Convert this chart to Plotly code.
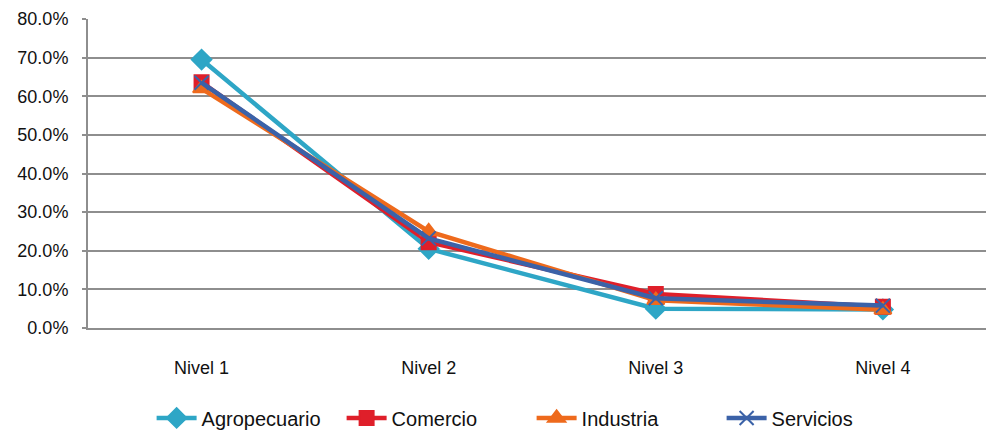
import plotly.graph_objects as go

# Share of firms per level, by economic sector
niveles = ["Nivel 1", "Nivel 2", "Nivel 3", "Nivel 4"]
agropecuario = [0.695, 0.205, 0.050, 0.048]
comercio = [0.636, 0.222, 0.088, 0.055]
industria = [0.620, 0.250, 0.072, 0.047]
servicios = [0.635, 0.232, 0.077, 0.058]

y_ticks = [0.0, 0.1, 0.2, 0.3, 0.4, 0.5, 0.6, 0.7, 0.8]

series = [
    ("Agropecuario", agropecuario, "#2EA6C6", "diamond", 15),
    ("Comercio", comercio, "#DF1F2A", "square", 14),
    ("Industria", industria, "#EE6A1C", "triangle-up", 15),
    ("Servicios", servicios, "#3B62A8", "x-thin-open", 14),
]

fig = go.Figure()
for name, vals, color, symbol, size in series:
    fig.add_trace(go.Scatter(
        x=niveles, y=vals, name=name, mode="lines+markers",
        line=dict(color=color, width=4.5),
        marker=dict(symbol=symbol, size=size, color=color,
                    line=dict(color=color, width=2)),
    ))

grid = "#8E8E8E"
font_family = "Liberation Sans, Arial, sans-serif"

fig.update_layout(
    width=986, height=430,
    margin=dict(l=88, r=0, t=19, b=102, autoexpand=False),
    paper_bgcolor="white", plot_bgcolor="white",
    font=dict(family=font_family, color="#111111"),
    showlegend=True,
    legend=dict(
        orientation="h", x=0.494, xanchor="center", y=-0.291, yanchor="middle",
        font=dict(size=20, family=font_family), itemwidth=40,
        entrywidth=135, entrywidthmode="pixels",
        bgcolor="rgba(0,0,0,0)",
    ),
    xaxis=dict(
        type="category", range=[-0.5, 3.454],
        showgrid=False, showline=True, linecolor=grid, linewidth=2,
        ticks="", tickfont=dict(size=18), ticklabelstandoff=22,
    ),
    yaxis=dict(
        range=[0, 0.8], tickvals=y_ticks, tickformat=".1%",
        showgrid=True, gridcolor=grid, gridwidth=1.5,
        showline=True, linecolor=grid, linewidth=2,
        ticks="outside", ticklen=4, tickcolor=grid, tickwidth=1.5,
        tickfont=dict(size=18), ticklabelstandoff=10,
        zeroline=False,
    ),
)

fig.write_html("out.html")
